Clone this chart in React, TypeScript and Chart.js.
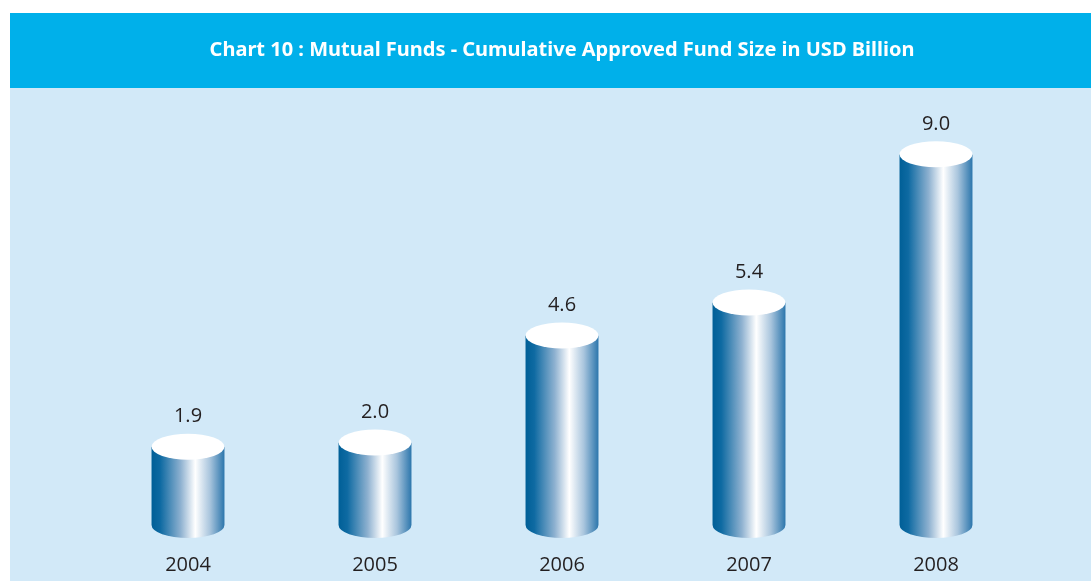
import React, { useEffect, useRef } from "react";
import { Chart, registerables } from "chart.js";

Chart.register(...registerables);

const years = ["2004", "2005", "2006", "2007", "2008"];
const fundSize = [1.9, 2.0, 4.6, 5.4, 9.0];
const titleText = "Chart 10 : Mutual Funds - Cumulative Approved Fund Size in USD Billion";

const HEADER_H = 75;
const CYAN = "#00B0EA";
const PANEL = "#D2E9F8";
const TEXT = "#231F20";

const backgroundPlugin = {
  id: "panelBg",
  beforeDraw(chart: any) {
    const { ctx, width, height } = chart;
    ctx.save();
    ctx.fillStyle = CYAN;
    ctx.fillRect(0, 0, width, HEADER_H);
    ctx.fillStyle = PANEL;
    ctx.fillRect(0, HEADER_H, width, height - HEADER_H);
    ctx.restore();
  },
};

const cylinderPlugin = {
  id: "cylinders",
  afterDatasetsDraw(chart: any) {
    const { ctx } = chart;
    const meta = chart.getDatasetMeta(0);
    const values = chart.data.datasets[0].data as number[];
    meta.data.forEach((bar: any, i: number) => {
      const p = bar.getProps(["x", "y", "base", "width"], true);
      const rx = p.width / 2;
      const ry = 13;
      const left = p.x - rx;
      const right = p.x + rx;
      const g = ctx.createLinearGradient(left, 0, right, 0);
      g.addColorStop(0, "#005F97");
      g.addColorStop(0.12, "#0E6AA2");
      g.addColorStop(0.4, "#8EB1D0");
      g.addColorStop(0.6, "#FFFFFF");
      g.addColorStop(0.8, "#A9C5DD");
      g.addColorStop(1, "#2C76AC");
      ctx.save();
      ctx.beginPath();
      ctx.moveTo(left, p.y);
      ctx.lineTo(left, p.base);
      ctx.ellipse(p.x, p.base, rx, ry, 0, Math.PI, 0, true);
      ctx.lineTo(right, p.y);
      ctx.closePath();
      ctx.fillStyle = g;
      ctx.fill();
      ctx.beginPath();
      ctx.ellipse(p.x, p.y, rx, ry, 0, 0, Math.PI * 2);
      ctx.fillStyle = "#FFFFFF";
      ctx.fill();
      ctx.fillStyle = TEXT;
      ctx.font = "20px 'Open Sans', sans-serif";
      ctx.textAlign = "center";
      ctx.textBaseline = "middle";
      ctx.fillText(values[i].toFixed(1), p.x, p.y - 30);
      ctx.restore();
    });
  },
};

export default function App() {
  const ref = useRef<HTMLCanvasElement | null>(null);
  useEffect(() => {
    if (!ref.current) return;
    const chart = new Chart(ref.current, {
      type: "bar",
      data: {
        labels: years,
        datasets: [
          {
            data: fundSize,
            backgroundColor: "rgba(0,0,0,0)",
            borderWidth: 0,
            barPercentage: 0.39,
            categoryPercentage: 1,
          },
        ],
      },
      options: {
        responsive: false,
        animation: false,
        layout: { padding: { left: 84.5, right: 61.5, top: 0, bottom: 0 } },
        plugins: {
          legend: { display: false },
          tooltip: { enabled: false },
          title: {
            display: true,
            text: titleText,
            color: "#FFFFFF",
            font: { family: "'Noto Sans', sans-serif", size: 20, weight: "bold" },
            padding: { top: 25, bottom: 51 },
          },
        },
        scales: {
          x: {
            grid: { display: false, drawTicks: false },
            border: { display: false },
            ticks: {
              color: TEXT,
              padding: 28,
              maxRotation: 0,
              font: { family: "'Open Sans', sans-serif", size: 20 },
            },
            afterFit: (s: any) => {
              s.height = 56;
            },
          },
          y: {
            display: false,
            min: 0,
            max: 10,
          },
        },
      },
      plugins: [backgroundPlugin, cylinderPlugin],
    });
    return () => chart.destroy();
  }, []);
  return (
    <canvas
      ref={ref}
      width={1081}
      height={568}
      style={{ position: "absolute", left: 10, top: 13, display: "block" }}
    />
  );
}
